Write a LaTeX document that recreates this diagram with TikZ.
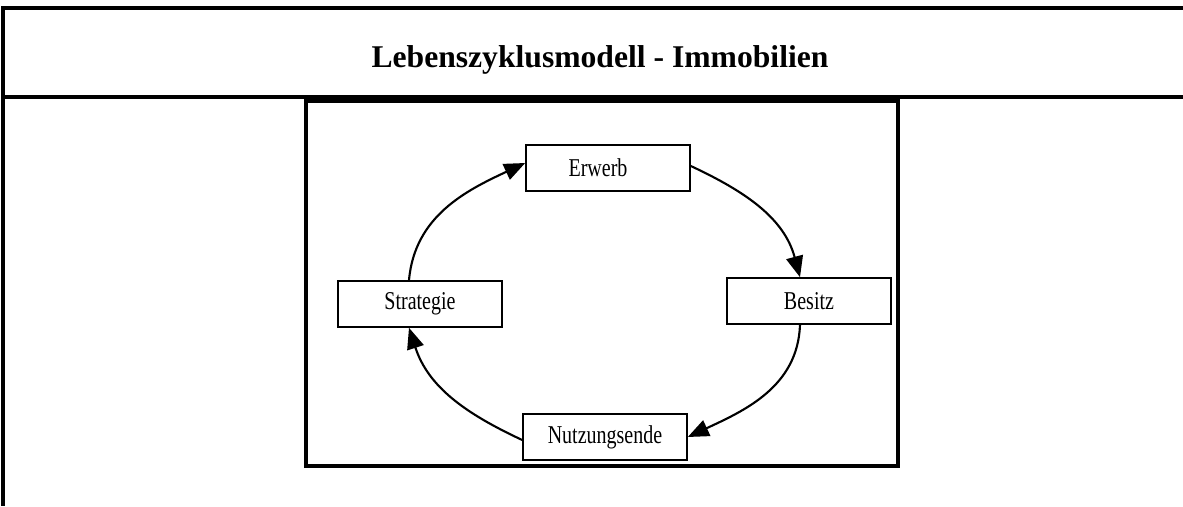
\documentclass[tikz,border=0pt]{standalone}
\usepackage{fontspec}
\setmainfont{Liberation Serif}
\usepackage{graphicx}
\usetikzlibrary{arrows.meta}

\newcommand{\stagetext}[1]{\scalebox{0.78}[1]{#1}}

\tikzset{
    stage/.style={draw, line width=0.9pt, minimum width=3.28cm, minimum height=0.92cm,
        inner sep=0pt, font={\fontsize{14.6}{16}\selectfont}},
    cycle/.style={line width=1.2pt, -{Triangle[length=0.42cm, width=0.34cm]}}
}

\begin{document}
\begin{tikzpicture}
            \useasboundingbox
                (0,0) rectangle (23.66,10.12)
            ;
            % frame with title row
            \draw[line width=2pt]
                (23.66,9.96) -- (0.06,9.96) -- (0.06,0)
                (0.06,8.18) -- (23.66,8.18)
            ;
            \node[anchor=base, font={\bfseries\fontsize{18}{21}\selectfont}] (title) at (12.0,8.78)
                {Lebenszyklusmodell - Immobilien};
            \draw[line width=2.6pt]
                (6.12,8.10) rectangle (17.96,0.80)
            ;
            % stages
            \node[stage] (erw) at (12.16,6.76) {\stagetext{Erwerb}\hspace*{0.4cm}};
            \node[stage] (bes) at (16.18,4.10) {\stagetext{Besitz}};
            \node[stage] (nutz) at (12.10,1.38) {\stagetext{Nutzungsende}};
            \node[stage] (strat) at (8.40,4.04) {\stagetext{Strategie}};
            % cycle
            \draw[cycle]
                ([xshift=-0.22cm]strat.north) to[out=85, in=205] ([yshift=0.1cm]erw.west)
            ;
            \draw[cycle]
                ([yshift=0.04cm]erw.east) to[out=-25, in=105] ([xshift=-0.18cm]bes.north)
            ;
            \draw[cycle]
                ([xshift=-0.18cm]bes.south) to[out=-92, in=25] (nutz.east)
            ;
            \draw[cycle]
                ([yshift=-0.06cm]nutz.west) to[out=155, in=-72] ([xshift=-0.22cm]strat.south)
            ;
        \end{tikzpicture}
\end{document}
